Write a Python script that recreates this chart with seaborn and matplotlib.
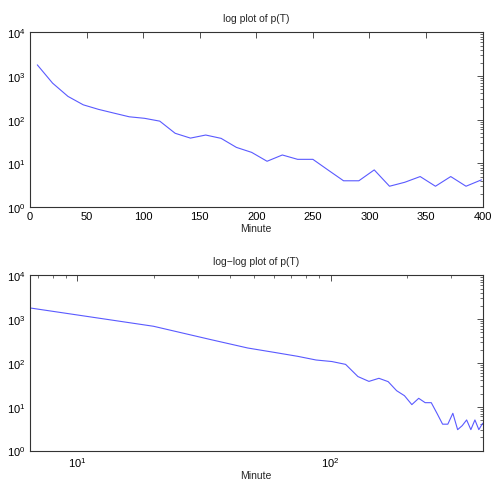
import numpy as np
import pandas as pd
import matplotlib
matplotlib.use("Agg")
import matplotlib.pyplot as plt
import seaborn as sns
from matplotlib.ticker import LogLocator, NullFormatter, MultipleLocator

# dati
minuti = [6.5, 20.0, 33.6, 47.1, 60.6, 74.2, 87.7, 101.2, 114.7, 128.3,
          141.8, 155.3, 168.9, 182.4, 195.9, 209.5, 223.0, 236.5, 250.0, 263.6,
          277.1, 290.6, 304.2, 317.7, 331.2, 344.8, 358.3, 371.8, 385.3, 398.9]
p_T = [1810, 690, 343, 220, 173, 142, 117, 108, 93, 49,
       38, 44.7, 37.5, 23.3, 17.9, 11.2, 15.6, 12.4, 12.4, 7.0,
       4.0, 4.0, 7.1, 3.0, 3.7, 5.0, 3.0, 5.0, 3.0, 4.2]

titoli = ["log plot of p(T)", "log\u2212log plot of p(T)"]
etichetta_x = "Minute"

df = pd.DataFrame({"Minute": minuti, "p": p_T})

sns.set_style("white")
plt.rcParams["font.family"] = ["Liberation Sans", "DejaVu Sans"]
plt.rcParams["mathtext.fontset"] = "custom"
plt.rcParams["mathtext.rm"] = "Liberation Sans"
plt.rcParams["font.size"] = 7.5

fig = plt.figure(figsize=(4.91, 4.85), dpi=100)
ax1 = fig.add_axes([0.061, 0.571, 0.922, 0.360])
ax2 = fig.add_axes([0.061, 0.069, 0.922, 0.361])

colore = "#5a5aff"

for ax in (ax1, ax2):
    sns.lineplot(data=df, x="Minute", y="p", ax=ax, color=colore, linewidth=0.8)
    ax.set_yscale("log")
    ax.set_ylim(1, 1e4)
    ax.yaxis.set_major_locator(LogLocator(base=10, numticks=10))
    ax.yaxis.set_minor_locator(LogLocator(base=10, subs=np.arange(2, 10), numticks=20))
    ax.yaxis.set_minor_formatter(NullFormatter())
    ax.set_ylabel("")
    ax.set_xlabel(etichetta_x, fontsize=7.5, labelpad=1)
    for s in ax.spines.values():
        s.set_color("#333333")
        s.set_linewidth(0.8)
    ax.tick_params(which="both", direction="in", top=True, right=True,
                   colors="#333333", labelcolor="black", labelsize=8, pad=3)
    ax.tick_params(which="major", length=4, width=0.6)
    ax.tick_params(which="minor", length=2, width=0.5)

ax1.set_xlim(0, 400)
ax1.xaxis.set_major_locator(MultipleLocator(50))
ax1.set_title(titoli[0], fontsize=7.5, pad=8)

ax2.set_xscale("log")
ax2.set_xlim(minuti[0], minuti[-1])
ax2.xaxis.set_minor_locator(LogLocator(base=10, subs=np.arange(2, 10), numticks=20))
ax2.xaxis.set_minor_formatter(NullFormatter())
ax2.set_title(titoli[1], fontsize=7.5, pad=8)
ax2.set_xlabel(etichetta_x, fontsize=7.5, labelpad=1)

fig.savefig("out.png", dpi=100)
